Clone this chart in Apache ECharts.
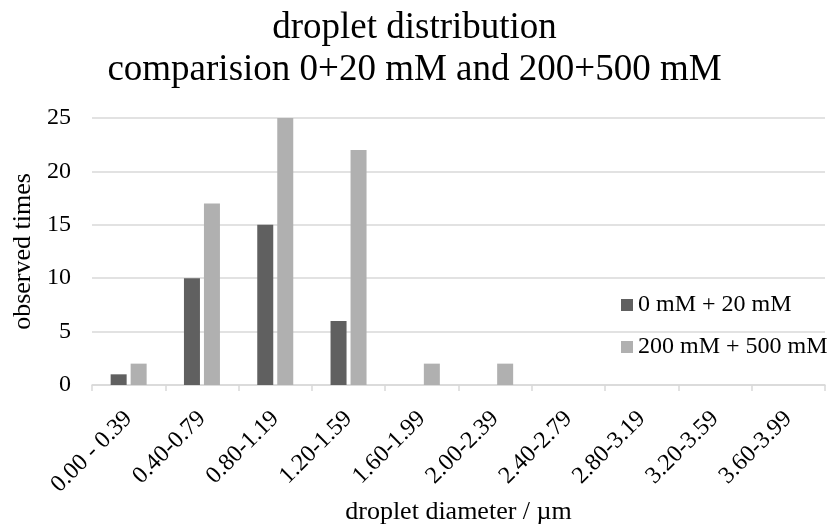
<!DOCTYPE html>
<html><head><meta charset="utf-8">
<script src="https://cdn.jsdelivr.net/npm/echarts@6/dist/echarts.min.js"></script>
<style>html,body{margin:0;padding:0;background:#fff}#c{width:829px;height:530px}</style>
</head><body><div id="c"></div>
<script>
const categories = ["0.00 - 0.39","0.40-0.79","0.80-1.19","1.20-1.59","1.60-1.99","2.00-2.39","2.40-2.79","2.80-3.19","3.20-3.59","3.60-3.99"];
const seriesLow = [1,10,15,6,0,0,0,0,0,0];
const seriesHigh = [2,17,25,22,2,2,0,0,0,0];
const seriesNames = ["0 mM + 20 mM","200 mM + 500 mM"];
const yTicks = {min:0,max:25,interval:5};
const F = "'Liberation Serif','Times New Roman',serif";
const chart = echarts.init(document.getElementById('c'));
chart.setOption({
  animation:false,
  title:{text:"droplet distribution\ncomparision 0+20 mM and 200+500 mM",left:'center',top:2,
    textStyle:{fontFamily:F,fontSize:37,fontWeight:'normal',color:'#000',lineHeight:42}},
  legend:{orient:'vertical',left:621,top:293,padding:0,itemGap:18,itemWidth:12,itemHeight:12,icon:'rect',
    textStyle:{fontFamily:F,fontSize:24,color:'#000'},data:seriesNames},
  grid:{left:92,right:4,top:118,bottom:145,containLabel:false,outerBoundsMode:'none'},
  xAxis:{type:'category',data:categories,name:'droplet diameter / µm',nameLocation:'middle',nameGap:114,nameMoveOverlap:false,
    nameTextStyle:{fontFamily:F,fontSize:26,color:'#000'},
    axisLine:{lineStyle:{color:'#d9d9d9',width:1.5}},axisTick:{show:true,length:6,lineStyle:{color:'#d9d9d9',width:1.5}},
    axisLabel:{rotate:45,interval:0,fontFamily:F,fontSize:24,color:'#000',margin:30}},
  yAxis:{type:'value',min:yTicks.min,max:yTicks.max,interval:yTicks.interval,name:'observed times',nameLocation:'middle',nameGap:56,nameMoveOverlap:false,
    nameTextStyle:{fontFamily:F,fontSize:26,color:'#000'},
    axisLine:{show:false},axisTick:{show:false},
    splitLine:{lineStyle:{color:'#d9d9d9',width:1.5}},
    axisLabel:{fontFamily:F,fontSize:24,color:'#000',margin:21}},
  series:[
    {name:seriesNames[0],type:'bar',data:seriesLow,barWidth:16,barGap:'25%',itemStyle:{color:'#606060'}},
    {name:seriesNames[1],type:'bar',data:seriesHigh,barWidth:16,barGap:'25%',itemStyle:{color:'#b0b0b0'}}
  ]
});
</script></body></html>
